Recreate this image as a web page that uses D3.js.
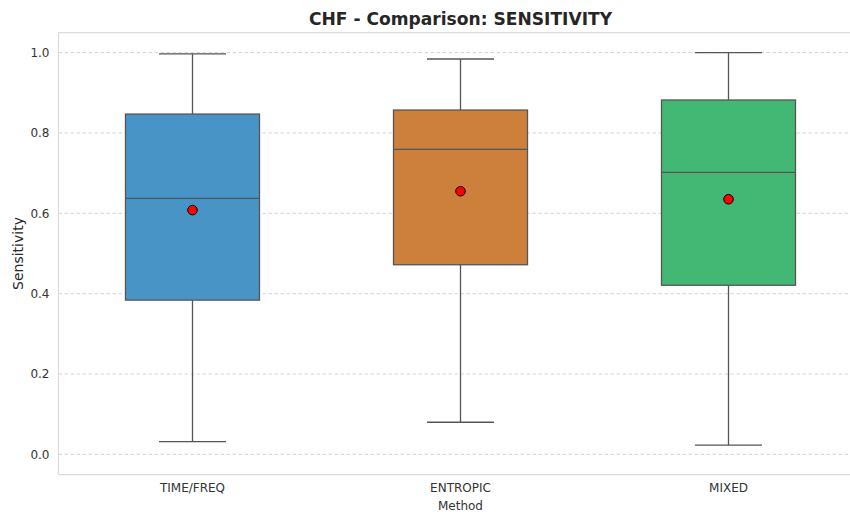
<!DOCTYPE html>
<html>
<head>
<meta charset="utf-8">
<script src="https://cdn.jsdelivr.net/npm/d3@7"></script>
<style>
  html, body { margin: 0; padding: 0; background: #fff; }
  svg { display: block; font-family: "DejaVu Sans", sans-serif; }
</style>
</head>
<body>
<svg id="chart" width="850" height="512"></svg>
<script>
// Sensitivity summaries for each feature method
const methods = ["TIME/FREQ", "ENTROPIC", "MIXED"];
const whiskerLow = [0.032, 0.080, 0.023];
const q1 = [0.384, 0.472, 0.421];
const median = [0.637, 0.759, 0.702];
const q3 = [0.847, 0.857, 0.882];
const whiskerHigh = [0.997, 0.984, 1.000];
const means = [0.608, 0.655, 0.635];
const boxColors = ["#4994c7", "#cd803b", "#43b875"];
const yTicks = [0.0, 0.2, 0.4, 0.6, 0.8, 1.0];

const rows = methods.map((m, i) => ({
  method: m, lo: whiskerLow[i], q1: q1[i], med: median[i],
  q3: q3[i], hi: whiskerHigh[i], mean: means[i], color: boxColors[i]
}));

const svg = d3.select("#chart");
const margin = { left: 58.5, top: 32.5, right: 862.5, bottom: 474.5 };

const x = d3.scaleBand().domain(methods).range([margin.left, margin.right]).padding(0);
const y = d3.scaleLinear().domain([-0.05, 1.05]).range([margin.bottom, margin.top]);

// Grid lines
svg.append("g").selectAll("line").data(yTicks).join("line")
  .attr("x1", margin.left).attr("x2", 850)
  .attr("y1", d => y(d)).attr("y2", d => y(d))
  .attr("stroke", "#cfcfcf").attr("stroke-width", 0.9)
  .attr("stroke-dasharray", "3.5,2.5");

// Spines (left, top, bottom)
const spine = svg.append("g").attr("stroke", "#dcdcdc").attr("stroke-width", 1.25);
spine.append("line").attr("x1", margin.left).attr("x2", margin.left).attr("y1", margin.top).attr("y2", margin.bottom);
spine.append("line").attr("x1", margin.left).attr("x2", 850).attr("y1", margin.top).attr("y2", margin.top);
spine.append("line").attr("x1", margin.left).attr("x2", 850).attr("y1", margin.bottom).attr("y2", margin.bottom);

// Y axis
const yAxis = svg.append("g").attr("transform", `translate(${margin.left},0)`)
  .call(d3.axisLeft(y).tickValues(yTicks).tickFormat(d3.format(".1f")).tickSize(0).tickPadding(9));
yAxis.select(".domain").remove();
yAxis.selectAll("text").attr("font-size", 12).attr("fill", "#333").attr("font-family", "DejaVu Sans");

// X axis
const xAxis = svg.append("g").attr("transform", `translate(0,${margin.bottom})`)
  .call(d3.axisBottom(x).tickSize(0).tickPadding(9));
xAxis.select(".domain").remove();
xAxis.selectAll("text").attr("font-size", 12).attr("fill", "#333").attr("font-family", "DejaVu Sans");

// Boxes
const boxW = x.bandwidth() * 0.5;
const capW = boxW * 0.5;
const edge = "#555555";
const g = svg.append("g").selectAll("g").data(rows).join("g");

g.append("line")
  .attr("x1", d => x(d.method) + x.bandwidth() / 2).attr("x2", d => x(d.method) + x.bandwidth() / 2)
  .attr("y1", d => y(d.hi)).attr("y2", d => y(d.q3))
  .attr("stroke", edge).attr("stroke-width", 1.3);
g.append("line")
  .attr("x1", d => x(d.method) + x.bandwidth() / 2).attr("x2", d => x(d.method) + x.bandwidth() / 2)
  .attr("y1", d => y(d.q1)).attr("y2", d => y(d.lo))
  .attr("stroke", edge).attr("stroke-width", 1.3);
g.append("line")
  .attr("x1", d => x(d.method) + x.bandwidth() / 2 - capW / 2).attr("x2", d => x(d.method) + x.bandwidth() / 2 + capW / 2)
  .attr("y1", d => y(d.hi)).attr("y2", d => y(d.hi))
  .attr("stroke", edge).attr("stroke-width", 1.3);
g.append("line")
  .attr("x1", d => x(d.method) + x.bandwidth() / 2 - capW / 2).attr("x2", d => x(d.method) + x.bandwidth() / 2 + capW / 2)
  .attr("y1", d => y(d.lo)).attr("y2", d => y(d.lo))
  .attr("stroke", edge).attr("stroke-width", 1.3);
g.append("rect")
  .attr("x", d => x(d.method) + x.bandwidth() / 2 - boxW / 2)
  .attr("width", boxW)
  .attr("y", d => y(d.q3))
  .attr("height", d => y(d.q1) - y(d.q3))
  .attr("fill", d => d.color).attr("stroke", edge).attr("stroke-width", 1.3);
g.append("line")
  .attr("x1", d => x(d.method) + x.bandwidth() / 2 - boxW / 2).attr("x2", d => x(d.method) + x.bandwidth() / 2 + boxW / 2)
  .attr("y1", d => y(d.med)).attr("y2", d => y(d.med))
  .attr("stroke", edge).attr("stroke-width", 1.3);
g.append("circle")
  .attr("cx", d => x(d.method) + x.bandwidth() / 2)
  .attr("cy", d => y(d.mean))
  .attr("r", 4.8)
  .attr("fill", "#ff0000").attr("stroke", "#000").attr("stroke-width", 1);

// Title and axis labels
svg.append("text").attr("x", (margin.left + margin.right) / 2).attr("y", 24.5)
  .attr("text-anchor", "middle").attr("font-size", 17.1).attr("font-weight", "bold").attr("fill", "#262626")
  .text("CHF - Comparison: SENSITIVITY");
svg.append("text").attr("transform", `translate(23,${(margin.top + margin.bottom) / 2}) rotate(-90)`)
  .attr("text-anchor", "middle").attr("font-size", 14).attr("fill", "#262626")
  .text("Sensitivity");
svg.append("text").attr("x", (margin.left + margin.right) / 2).attr("y", 510)
  .attr("text-anchor", "middle").attr("font-size", 12).attr("fill", "#333")
  .text("Method");
</script>
</body>
</html>
